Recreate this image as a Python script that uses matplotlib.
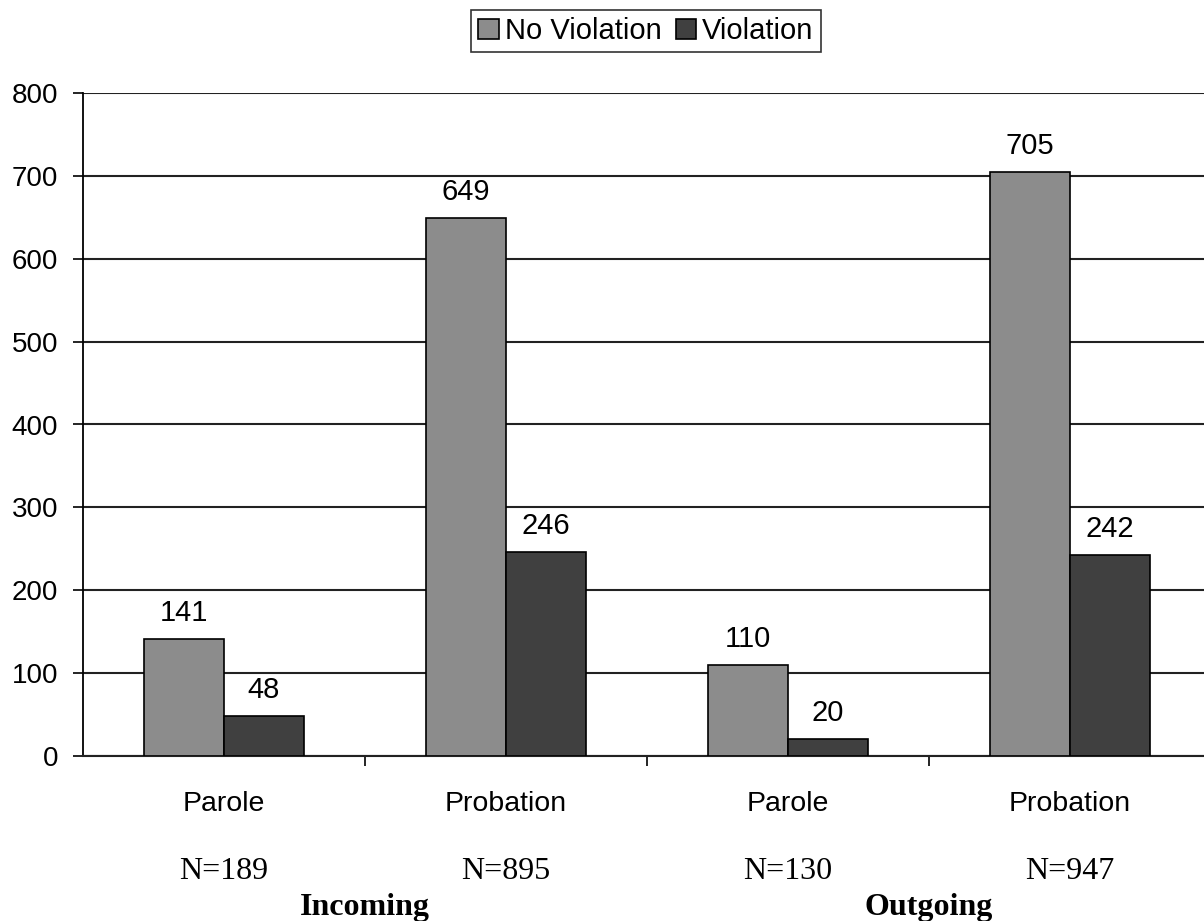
import matplotlib
matplotlib.use("Agg")
import matplotlib.pyplot as plt
import matplotlib.transforms as mtransforms
import numpy as np

# data
categories = ['Parole', 'Probation', 'Parole', 'Probation']
no_violation = [141, 649, 110, 705]
violation = [48, 246, 20, 242]
n_labels = ['N=189', 'N=895', 'N=130', 'N=947']
groups = ['Incoming', 'Outgoing']
series_names = ['No Violation', 'Violation']
y_ticks = [0, 100, 200, 300, 400, 500, 600, 700, 800]

plt.rcParams['font.family'] = ['Liberation Sans', 'DejaVu Sans']

fig = plt.figure(figsize=(12.04, 9.21), dpi=100)
ax = fig.add_axes([83 / 1204, 1 - 756 / 921, 1128 / 1204, 663 / 921])

x = np.arange(len(categories))
w = 80 / 282
b1 = ax.bar(x - w / 2, no_violation, w, color='#8c8c8c', edgecolor='black',
            linewidth=1.2, label=series_names[0], zorder=3)
b2 = ax.bar(x + w / 2, violation, w, color='#404040', edgecolor='black',
            linewidth=1.2, label=series_names[1], zorder=3)

for bars in (b1, b2):
    for bar in bars:
        h = bar.get_height()
        ax.annotate(f'{h:.0f}', xy=(bar.get_x() + bar.get_width() / 2, h),
                    xytext=(0, 13), textcoords='offset points',
                    ha='center', va='baseline', fontsize=21)

ax.set_xlim(-0.5, 3.5)
ax.set_ylim(0, 800)
ax.set_yticks(y_ticks)
ax.tick_params(axis='y', labelsize=20, length=7, width=1.2, pad=11, direction='out')
ax.set_xticks([0.5, 1.5, 2.5])
ax.set_xticklabels([])
ax.tick_params(axis='x', length=7, width=1.2, direction='out')

ax.yaxis.grid(True, color='#222222', linewidth=1.5, zorder=1)
ax.set_axisbelow(True)
for s in ['top', 'right']:
    ax.spines[s].set_visible(False)
ax.spines['left'].set_linewidth(1.3)
ax.spines['bottom'].set_linewidth(1.5)
ax.spines['bottom'].set_color('#222222')

# category labels, N counts and group titles below the axis
trans = mtransforms.blended_transform_factory(ax.transData, fig.transFigure)
for i, c in enumerate(categories):
    ax.text(x[i], 1 - 811 / 921, c, transform=trans, ha='center', va='baseline',
            fontsize=20.5)
    ax.text(x[i], 1 - 879 / 921, n_labels[i], transform=trans, ha='center',
            va='baseline', fontsize=23, family=['Liberation Serif', 'DejaVu Serif'])
for j, g in enumerate(groups):
    ax.text(0.5 + 2 * j, 1 - 915 / 921, g, transform=trans, ha='center',
            va='baseline', fontsize=23, fontweight='bold',
            family=['Liberation Serif', 'DejaVu Serif'])

leg = fig.legend(loc='center', bbox_to_anchor=(646 / 1204, 1 - 31 / 921), ncol=2,
                 fontsize=21, frameon=True, fancybox=False, handlelength=0.7,
                 handleheight=0.7, handletextpad=0.2, columnspacing=0.5,
                 borderpad=0.25, borderaxespad=0)
leg.get_frame().set_edgecolor('black')
leg.get_frame().set_linewidth(1.2)

fig.savefig('out.png', dpi=100)
